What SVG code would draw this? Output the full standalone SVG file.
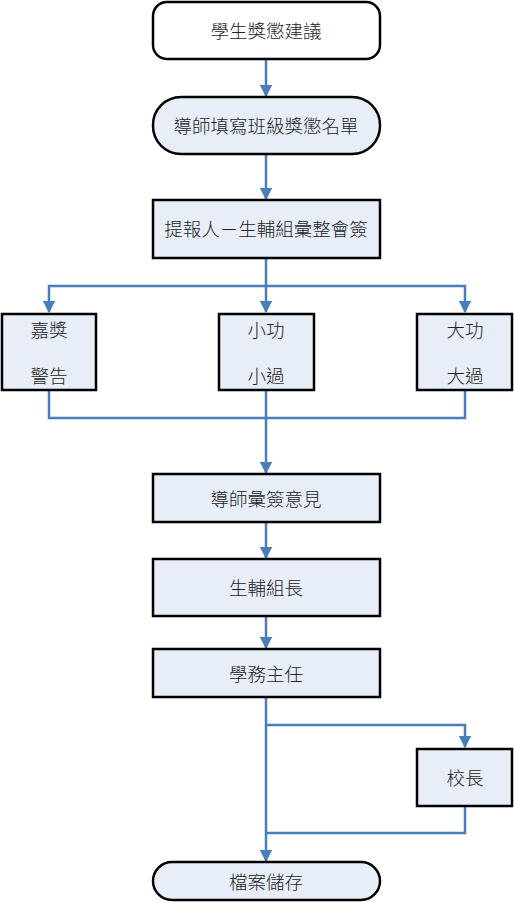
<svg xmlns="http://www.w3.org/2000/svg" width="514" height="902" viewBox="0 0 514 902">
<style>
.n{fill:#E8EEF7;stroke:#000;stroke-width:2.5}
.w{fill:#fff;stroke:#000;stroke-width:2.5}
.t{font-family:"Noto Sans CJK TC","Noto Sans CJK SC",sans-serif;font-size:18.5px;font-weight:300;fill:#222;text-anchor:middle;dominant-baseline:central}
.c{fill:none;stroke:#4A7EBB;stroke-width:2.5}
</style>
<defs>
<marker id="a" markerWidth="5" markerHeight="5" refX="4.5" refY="2.5" orient="auto" markerUnits="strokeWidth">
<path d="M0,0 L5,2.5 L0,5 Z" fill="#4A7EBB"/>
</marker>
</defs>
<g id="connectors">
<path class="c" d="M266,59 V96" marker-end="url(#a)"/>
<path class="c" d="M266,154 V199" marker-end="url(#a)"/>
<path class="c" d="M266,258 V312" marker-end="url(#a)"/>
<path class="c" d="M266,286 H465 V312" marker-end="url(#a)"/>
<path class="c" d="M266,286 H49 V312" marker-end="url(#a)"/>
<path class="c" d="M49,390 V418 H465 V390"/>
<path class="c" d="M266,390 V473" marker-end="url(#a)"/>
<path class="c" d="M266,522 V558" marker-end="url(#a)"/>
<path class="c" d="M266,616 V648" marker-end="url(#a)"/>
<path class="c" d="M266,697 V861" marker-end="url(#a)"/>
<path class="c" d="M266,725 H465 V747" marker-end="url(#a)"/>
<path class="c" d="M465,806 V833 H266"/>
</g>
<g id="n1"><rect class="w" x="153" y="2" width="227" height="57" rx="14"/><text class="t" x="266" y="30">學生獎懲建議</text></g>
<g id="n2"><rect class="n" x="153" y="97" width="227" height="57" rx="28"/><text class="t" x="266" y="125">導師填寫班級獎懲名單</text></g>
<g id="n3"><rect class="n" x="153" y="200" width="227" height="58"/><text class="t" x="266" y="228">提報人－生輔組彙整會簽</text></g>
<g id="n4"><rect class="n" x="2" y="314" width="94" height="76"/><text class="t" x="49" y="329">嘉獎</text><text class="t" x="49" y="375">警告</text></g>
<g id="n5"><rect class="n" x="219" y="314" width="95" height="76"/><text class="t" x="266" y="329">小功</text><text class="t" x="266" y="375">小過</text></g>
<g id="n6"><rect class="n" x="417" y="314" width="95" height="76"/><text class="t" x="465" y="329">大功</text><text class="t" x="465" y="375">大過</text></g>
<g id="n7"><rect class="n" x="153" y="474" width="227" height="48"/><text class="t" x="266" y="498">導師彙簽意見</text></g>
<g id="n8"><rect class="n" x="153" y="559" width="227" height="57"/><text class="t" x="266" y="587">生輔組長</text></g>
<g id="n9"><rect class="n" x="153" y="649" width="227" height="48"/><text class="t" x="266" y="673">學務主任</text></g>
<g id="n10"><rect class="n" x="417" y="749" width="95" height="57"/><text class="t" x="465" y="777">校長</text></g>
<g id="n11"><rect class="n" x="153" y="862" width="227" height="38" rx="19"/><text class="t" x="266" y="881">檔案儲存</text></g>
</svg>
